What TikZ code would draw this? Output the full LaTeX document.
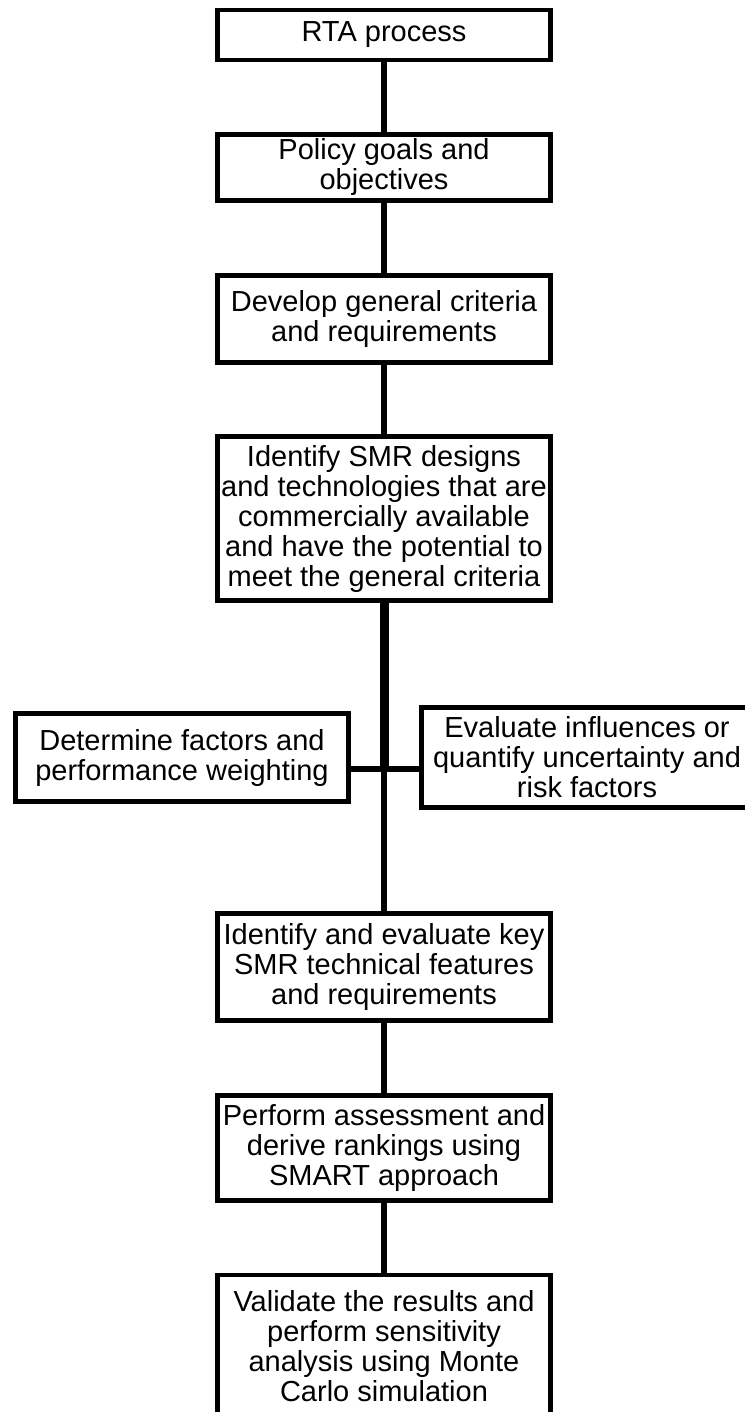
\documentclass[tikz,border=0pt]{standalone}
\usepackage{fontspec}
\setmainfont{Liberation Sans}
\begin{document}
\begin{tikzpicture}[x=1pt,y=-1pt,
  stepbox/.style={draw, line width=4.5pt, align=center, inner sep=0pt,
    minimum width=333pt, font=\fontsize{29}{30}\selectfont},
  link/.style={line width=6pt},
  trunk/.style={line width=9pt}]
\useasboundingbox (0,0) rectangle (744,1412);
% main column
\node [stepbox, minimum height=50pt] (rta) at (384,35) {RTA process};
\node [stepbox, minimum height=66pt] (pol) at (384,167.5)
  {Policy goals and\\objectives};
\node [stepbox, minimum height=87pt] (dev) at (384,319)
  {Develop general criteria\\and requirements};
\node [stepbox, minimum height=164pt] (smr) at (384,518.5)
  {Identify SMR designs\\and technologies that are\\commercially available\\and have the potential to\\meet the general criteria};
% side branches
\node [stepbox, minimum height=88pt] (det) at (182,757.5)
  {Determine factors and\\performance weighting};
\node [stepbox, minimum width=331pt, minimum height=100pt] (eva) at (587,757.5)
  {Evaluate influences or\\quantify uncertainty and\\risk factors};
\coordinate (junc) at (384,769);
% lower column
\node [stepbox, minimum height=107pt] (key) at (384,967)
  {Identify and evaluate key\\SMR technical features\\and requirements};
\node [stepbox, minimum height=105pt] (smt) at (384,1148)
  {Perform assessment and\\derive rankings using\\SMART approach};
\node [stepbox, minimum height=142pt] (val) at (384,1346)
  {Validate the results and\\perform sensitivity\\analysis using Monte\\Carlo simulation};
% connectors
\draw [link] (rta) -- (pol);
\draw [link] (pol) -- (dev);
\draw [link] (dev) -- (smr);
\draw [trunk] (smr) -- (junc);
\draw [link] (det.east |- junc) -- (eva.west |- junc);
\draw [link] (junc) -- (key);
\draw [link] (key) -- (smt);
\draw [link] (smt) -- (val);
\end{tikzpicture}
\end{document}
